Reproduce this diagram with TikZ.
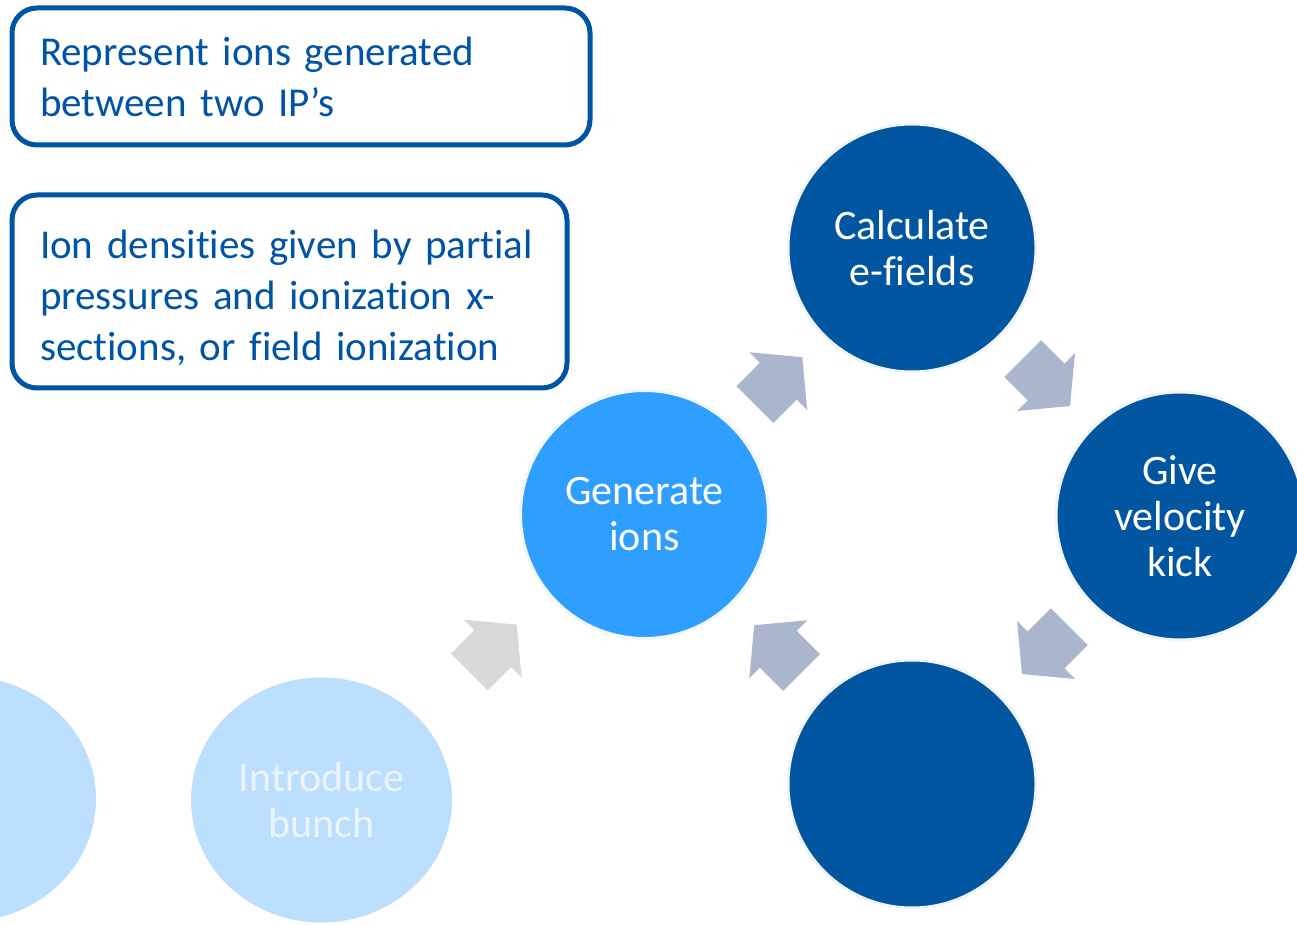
\documentclass[tikz,border=0pt]{standalone}
\usepackage{fontspec}
\setmainfont{Carlito}[Ligatures=NoCommon]
\usetikzlibrary{calc,shapes.geometric}

\definecolor{deepblue}{RGB}{0,86,160}
\definecolor{brightblue}{RGB}{46,158,255}
\definecolor{paleblue}{RGB}{187,223,253}
\definecolor{paletext}{RGB}{236,245,255}
\definecolor{ringgray}{RGB}{244,245,248}
\definecolor{arrowblue}{RGB}{171,181,205}
\definecolor{arrowgray}{RGB}{216,216,216}
\definecolor{boxblue}{RGB}{0,84,164}

\tikzset{
  stepcircle/.style={circle, minimum size=248pt, inner sep=0pt,
    draw=ringgray, line width=3pt, text=white, align=center,
    font=\fontsize{42}{46}\selectfont},
  fadedstep/.style={ellipse, minimum width=261pt, minimum height=245pt,
    inner sep=0pt, fill=paleblue, text=paletext, align=center,
    font=\fontsize{42}{46}\selectfont},
  notebox/.style={rectangle, rounded corners=25pt, draw=boxblue,
    line width=5pt, text=boxblue, align=left, inner xsep=28pt,
    inner ysep=0pt, font=\fontsize{41}{51}\selectfont},
  cyclearrow/.pic={
    \path[pic actions] (0,41) -- (34,0) -- (0,-41) -- (0,-26)
      -- (-33,-26) -- (-33,26) -- (0,26) -- cycle;
  }
}

\begin{document}
\begin{tikzpicture}[x=1pt,y=1pt]
  \useasboundingbox (0,0) rectangle (1297,924);

  % explanatory notes
  \node[notebox, text width=522pt, minimum height=137pt] (note1)
    at (301,847.5) {\mbox{Represent ions generated}\\\mbox{between two IP’s}};
  \node[notebox, text width=499pt, minimum height=193pt] (note2)
    at (289.5,632.5) {\rule{0pt}{42pt}\mbox{Ion densities given by partial}\\\mbox{pressures and ionization x-}\\\mbox{sections, or field ionization}};

  % faded steps before the cycle
  \node[fadedstep] (prev) at (-34.5,125) {};
  \node[fadedstep] (bunch) at (321.5,124) {Introduce\\bunch};

  % the cycle
  \node[stepcircle, fill=brightblue] (gen) at (644.5,409.5) {Generate\\ions};
  \node[stepcircle, fill=deepblue] (calc) at (912,676) {Calculate\\e-fields};
  \node[stepcircle, fill=deepblue] (vel) at (1180,408) {Give\\velocity\\kick};
  \node[stepcircle, fill=deepblue] (low) at (912,140) {};

  % block arrows between the steps
  \pic[fill=arrowgray, rotate=45] at ($(bunch)!0.53!(gen)$) {cyclearrow};
  \pic[fill=arrowblue, rotate=45] at ($(gen)!0.5!(calc)$) {cyclearrow};
  \pic[fill=arrowblue, rotate=-45] at ($(calc)!0.5!(vel)$) {cyclearrow};
  \pic[fill=arrowblue, rotate=-135] at ($(vel)!0.5!(low)$) {cyclearrow};
  \pic[fill=arrowblue, rotate=135] at ($(low)!0.5!(gen)$) {cyclearrow};
\end{tikzpicture}
\end{document}
